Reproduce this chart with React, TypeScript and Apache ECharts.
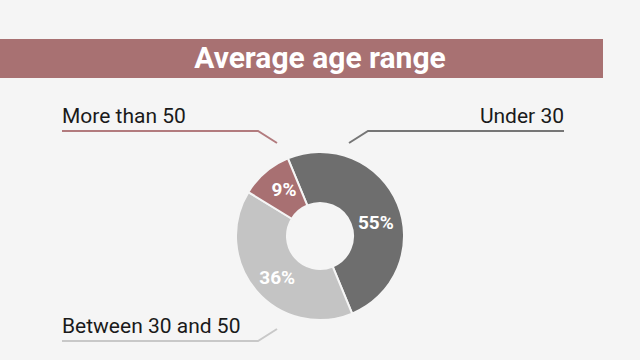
import React, { useEffect, useRef } from "react";
import * as echarts from "echarts";

// ---- data ----
const chartTitle = "Average age range";
const categories = ["Under 30", "Between 30 and 50", "More than 50"];
const sliceValues = [50, 40, 10];
// percentages printed on the slices
const percentLabels = ["55%", "36%", "9%"];

// ---- styles ----
const sliceColors = ["#6e6e6e", "#c4c4c4", "#a87072"];
const lineColors = ["#767676", "#c8c8c8", "#b27b7e"];
// small nudges of the inside labels, as placed in the reference
const insideNudge = [
  { dx: -1, dy: 10 },
  { dx: 4, dy: 2 },
  { dx: 4, dy: 0 },
];
// which side / row each outer label goes to: dx (1 right, -1 left), dy (-1 top, 1 bottom)
const labelSides = [
  { dx: 1, dy: -1 },
  { dx: -1, dy: 1 },
  { dx: -1, dy: -1 },
];

const FONT = "Roboto, 'Noto Sans', sans-serif";

export default function App() {
  const ref = useRef<HTMLDivElement>(null);

  useEffect(() => {
    if (!ref.current) return;
    document.body.style.margin = "0";
    const chart = echarts.init(ref.current, undefined, { renderer: "svg" });

    const cx = 320;
    const cy = 236;
    const ax = 313; // axis of the label frame

    const option: any = {
      animation: false,
      backgroundColor: "#f5f5f5",
      graphic: [
        {
          type: "rect",
          shape: { x: 0, y: 39, width: 603, height: 39 },
          style: { fill: "#a87172" },
          silent: true,
        },
        {
          type: "text",
          x: 320,
          y: 57.5,
          style: {
            text: chartTitle,
            fill: "#ffffff",
            font: `bold 30px ${FONT}`,
            textAlign: "center",
            textVerticalAlign: "middle",
          },
          silent: true,
        },
      ],
      series: [
        {
          type: "pie",
          center: [cx, cy],
          radius: [33, 84],
          startAngle: 112.5,
          clockwise: true,
          silent: true,
          itemStyle: { borderColor: "#f5f5f5", borderWidth: 2 },
          label: {
            show: true,
            position: "inside",
            color: "#ffffff",
            fontFamily: FONT,
            fontWeight: "bold",
            fontSize: 19,
            formatter: (p: any) => percentLabels[p.dataIndex],
          },
          labelLayout: (p: any) => ({
            dx: insideNudge[p.dataIndex].dx,
            dy: insideNudge[p.dataIndex].dy,
          }),
          labelLine: { show: false },
          data: categories.map((name, i) => ({
            name,
            value: sliceValues[i],
            itemStyle: { color: sliceColors[i] },
          })),
        },
        {
          type: "pie",
          center: [cx, cy],
          radius: [33, 84],
          startAngle: 112.5,
          clockwise: true,
          silent: true,
          z: 1,
          itemStyle: { color: "transparent", borderWidth: 0 },
          label: {
            show: true,
            position: "outside",
            color: "#1a1a1a",
            fontFamily: FONT,
            fontSize: 21,
            formatter: "{b}",
          },
          labelLine: { show: true, lineStyle: { width: 2 } },
          labelLayout: (p: any) => {
            const s = labelSides[p.dataIndex];
            const lineY = cy + s.dy * 105;
            return {
              x: ax + s.dx * 251,
              y: lineY - 15.5,
              align: s.dx > 0 ? "right" : "left",
              verticalAlign: "middle",
              labelLinePoints: [
                [ax + s.dx * 36, cy + s.dy * 93],
                [ax + s.dx * 55, lineY],
                [ax + s.dx * 251, lineY],
              ],
            };
          },
          data: categories.map((name, i) => ({
            name,
            value: sliceValues[i],
            labelLine: { lineStyle: { color: lineColors[i], width: 2 } },
          })),
        },
      ],
    };

    chart.setOption(option);
    return () => chart.dispose();
  }, []);

  return (
    <div
      ref={ref}
      style={{ position: "absolute", left: 0, top: 0, width: 640, height: 360 }}
    />
  );
}
